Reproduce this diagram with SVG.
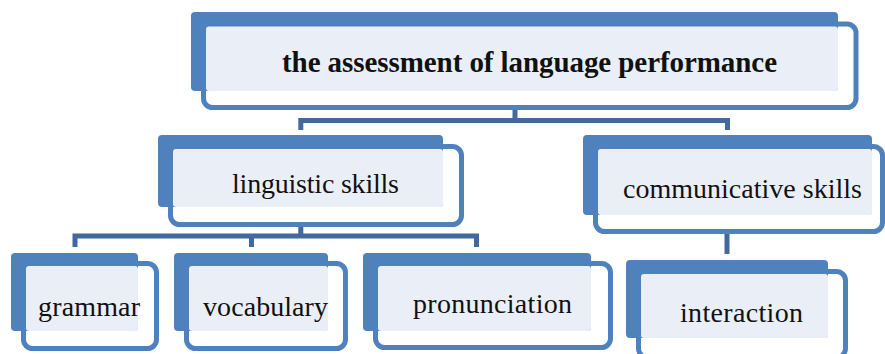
<svg xmlns="http://www.w3.org/2000/svg" width="885" height="354" viewBox="0 0 885 354">
<style>
.front{fill:#ffffff;stroke:#4f81bd;stroke-width:5}
.back{fill:#4f81bd}
.light{fill:#eaeff7}
.lbl{font-family:"Liberation Serif","Times New Roman",serif;font-size:28px;fill:#111;text-anchor:middle}
.bold{font-weight:bold;font-size:29px}
.conn{fill:none;stroke:#41699e;stroke-width:5}
.pale{fill:none;stroke:#dfe6f1;stroke-width:5}
</style>
<rect width="885" height="354" fill="#ffffff"/>
<g id="connectors">
<path class="pale" d="M515 96V105"/>
<path class="conn" d="M515 110V120.5M300.8 130V120.5H727.5V130"/>
<path class="pale" d="M300.8 210V222"/>
<path class="conn" d="M300.8 227V236M75 247V236H476.5V247M251.5 236V247"/>
<path class="pale" d="M727 216V229"/>
<path class="conn" d="M727 234V254"/>
</g>
<g id="n-top">
<rect class="front" x="203.5" y="24" width="652.5" height="83.5" rx="9"/>
<rect class="back" x="191" y="12" width="647" height="79" rx="4"/>
<rect class="light" x="206" y="26.5" width="632" height="64.5" rx="3"/>
<text class="lbl bold" x="529.5" y="72" textLength="495">the assessment of language performance</text>
</g>
<g id="n-linguistic">
<rect class="front" x="170.5" y="146.5" width="291" height="78" rx="9"/>
<rect class="back" x="158" y="135" width="285" height="72" rx="4"/>
<rect class="light" x="173" y="149" width="270" height="58" rx="3"/>
<text class="lbl" x="315.5" y="193" textLength="167">linguistic skills</text>
</g>
<g id="n-communicative">
<rect class="front" x="595.5" y="146.5" width="287" height="85" rx="9"/>
<rect class="back" x="583" y="135" width="289" height="80" rx="4"/>
<rect class="light" x="598" y="149" width="274" height="66" rx="3"/>
<text class="lbl" x="742.5" y="198" textLength="239">communicative skills</text>
</g>
<g id="n-grammar">
<rect class="front" x="23.5" y="263.5" width="133" height="85" rx="9"/>
<rect class="back" x="11" y="253" width="127" height="78" rx="4"/>
<rect class="light" x="26" y="266" width="112" height="65" rx="3"/>
<text class="lbl" x="89" y="316" textLength="102">grammar</text>
</g>
<g id="n-vocabulary">
<rect class="front" x="186.5" y="263.5" width="159" height="85" rx="9"/>
<rect class="back" x="174" y="253" width="154" height="78" rx="4"/>
<rect class="light" x="189" y="266" width="139" height="65" rx="3"/>
<text class="lbl" x="265.5" y="316" textLength="125">vocabulary</text>
</g>
<g id="n-pronunciation">
<rect class="front" x="375.5" y="263.5" width="235" height="84" rx="9"/>
<rect class="back" x="363" y="253" width="228" height="78" rx="4"/>
<rect class="light" x="378" y="266" width="213" height="65" rx="3"/>
<text class="lbl" x="492.5" y="313" textLength="159">pronunciation</text>
</g>
<g id="n-interaction">
<rect class="front" x="638.5" y="271.5" width="207" height="86" rx="9"/>
<rect class="back" x="626" y="260" width="202" height="78" rx="4"/>
<rect class="light" x="641" y="274" width="187" height="64" rx="3"/>
<text class="lbl" x="741.5" y="322" textLength="123">interaction</text>
</g>
</svg>
